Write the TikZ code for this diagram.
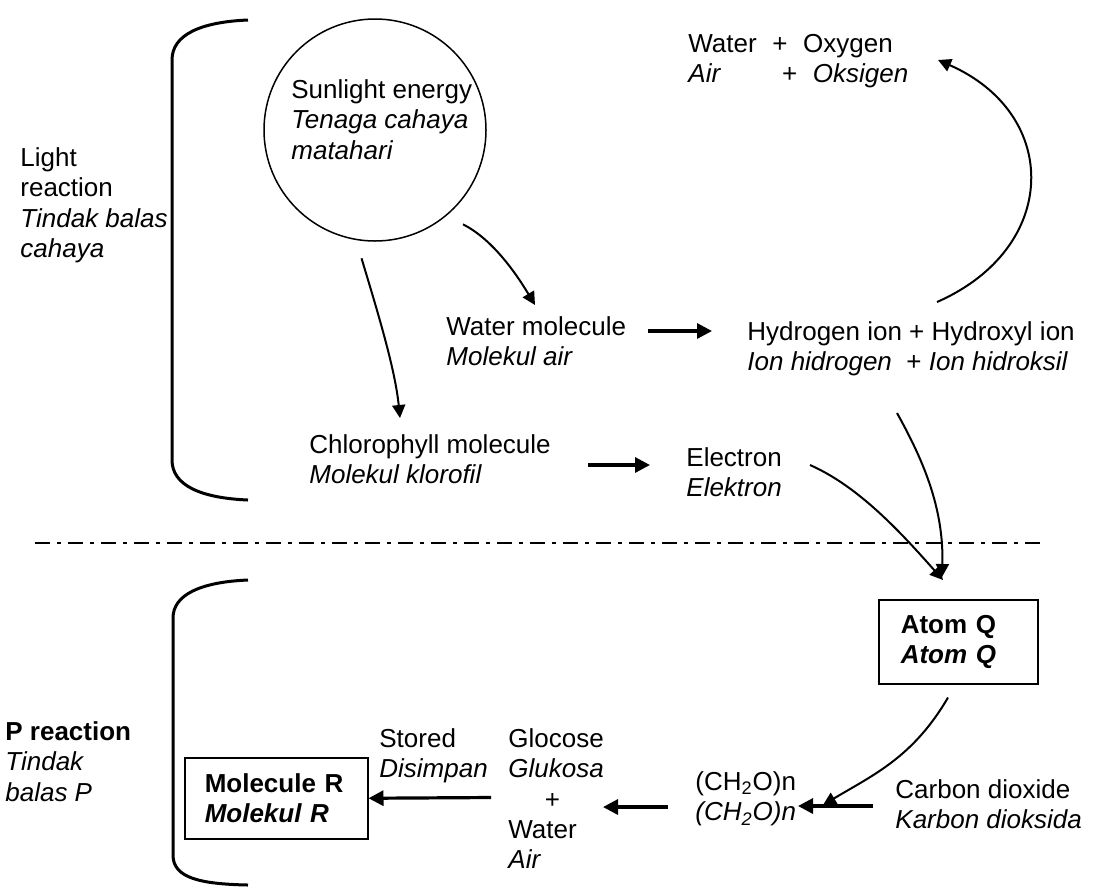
\documentclass[tikz,border=0pt]{standalone}
\usepackage{fontspec}
\setmainfont{Liberation Sans}
\usetikzlibrary{arrows.meta,positioning,calc}

\begin{document}
\begin{tikzpicture}[x=0.5pt, y=-0.5pt,
    txt/.style={anchor=north west, inner sep=0pt, align=left,
                font=\fontsize{13}{15.2}\selectfont},
    boxnode/.style={draw, line width=0.75pt, align=left, anchor=north west,
                font=\fontsize{13}{15.2}\selectfont\bfseries},
    flow/.style={line width=1pt, -{Triangle[length=6.5pt,width=6.5pt]}},
    thickflow/.style={line width=1.6pt, -{Triangle[length=7.5pt,width=7.5pt]}},
    bracket/.style={line width=1.5pt}]

    \useasboundingbox (0,0) rectangle (1096,890);

    %% brackets
    \draw[bracket] (248,20) .. controls (200,22) and (172,35) .. (172,60)
      -- (172,460) .. controls (172,485) and (200,498) .. (248,500);
    \draw[bracket] (248,580) .. controls (200,582) and (173,595) .. (173,618)
      -- (173,855) .. controls (173,878) and (200,884) .. (248,885);

    %% dividing line
    \draw[line width=1pt, dash pattern=on 7.5pt off 3.5pt on 2pt off 3.5pt]
      (35,543) -- (1043,543);

    %% light reaction
    \node[txt] (light) at (20,147)
      {Light\\reaction\\\textit{Tindak balas}\\\textit{cahaya}};
    \node[circle, draw, line width=0.75pt, minimum size=111pt,
          inner sep=0pt, outer sep=9pt] (sun) at (375,130) {};
    \node[txt] (sunlbl) at (291,79)
      {Sunlight energy\\\textit{Tenaga cahaya}\\\textit{matahari}};
    \node[txt] (prod) at (688,34)
      {Water\hspace{0.6em}+\hspace{0.6em}Oxygen\\
       \textit{Air}\hspace{2.35em}+\hspace{0.6em}\textit{Oksigen}};
    \node[txt] (water) at (446,316) {Water molecule\\\textit{Molekul air}};
    \node[txt] (hions) at (747,321)
      {Hydrogen ion + Hydroxyl ion\\
       \textit{Ion hidrogen}~~+ \textit{Ion hidroksil}};
    \node[txt] (chloro) at (309,434)
      {Chlorophyll molecule\\\textit{Molekul klorofil}};
    \node[txt] (elec) at (686,447) {Electron\\\textit{Elektron}};

    %% P reaction
    \node[txt] (preac) at (5,721)
      {\textbf{P reaction}\\\textit{Tindak}\\\textit{balas P}};
    \node[boxnode, text width=57.5pt, inner xsep=11pt, minimum height=42pt]
      (atomq) at (878,599) {Atom Q\\\textit{Atom Q}};
    \node[txt] (co2) at (895,779) {Carbon dioxide\\\textit{Karbon dioksida}};
    \node[txt] (co2n) at (695,771)
      {(CH\textsubscript{2}O)n\\\textit{(CH\textsubscript{2}O)n}};
    \node[txt] (gluc) at (508,728)
      {Glocose\\\textit{Glukosa}\\\hspace*{1.4em}+\\Water\\\textit{Air}};
    \node[txt] (stored) at (379,728) {Stored\\\textit{Disimpan}};
    \node[boxnode, text width=71.5pt, inner xsep=10pt, minimum height=40.5pt]
      (molr) at (184,757) {Molecule R\\\textit{Molekul R}};

    %% connectors, light side
    \draw[flow] (sun.-96) .. controls +(15,50) and +(-5,-50)
      .. ([shift={(91,-16)}]chloro.north west);
    \draw[flow] (sun.-47) .. controls +(30,15) and +(-18,-30)
      .. ([shift={(89,-11)}]water.north west);
    \draw[thickflow] ([shift={(22,15)}]water.north east)
      -- ([shift={(-35,10)}]hions.north west);
    \draw[flow] ([shift={(190,-19)}]hions.north west)
      .. controls +(123,-54) and +(123,54)
      .. ([shift={(250,26)}]prod.north west);
    \draw[thickflow] ([shift={(37,31)}]chloro.north east)
      -- ([shift={(-36,18)}]elec.north west);
    \draw[flow] ([shift={(150,92)}]hions.north west)
      .. controls +(25,45) and +(2,-70)
      .. ([shift={(64,-22)}]atomq.north west);
    \draw[flow] ([shift={(124,18)}]elec.north west)
      .. controls +(50,22) and +(-40,-45)
      .. ([shift={(65,-19)}]atomq.north west);

    %% connectors, P side
    \draw[flow] ([shift={(70,13)}]atomq.south west)
      .. controls +(-35,60) and +(50,-30)
      .. ([shift={(-72,26)}]co2.north west);
    \draw[thickflow] ([shift={(-22,27)}]co2.north west)
      -- ([shift={(103,35)}]co2n.north west);
    \draw[thickflow] ([shift={(-27,36)}]co2n.north west)
      -- ([shift={(95,79)}]gluc.north west);
    \draw[thickflow] ([shift={(-17,69.5)}]gluc.north west) -- (molr.east);

\end{tikzpicture}
\end{document}
